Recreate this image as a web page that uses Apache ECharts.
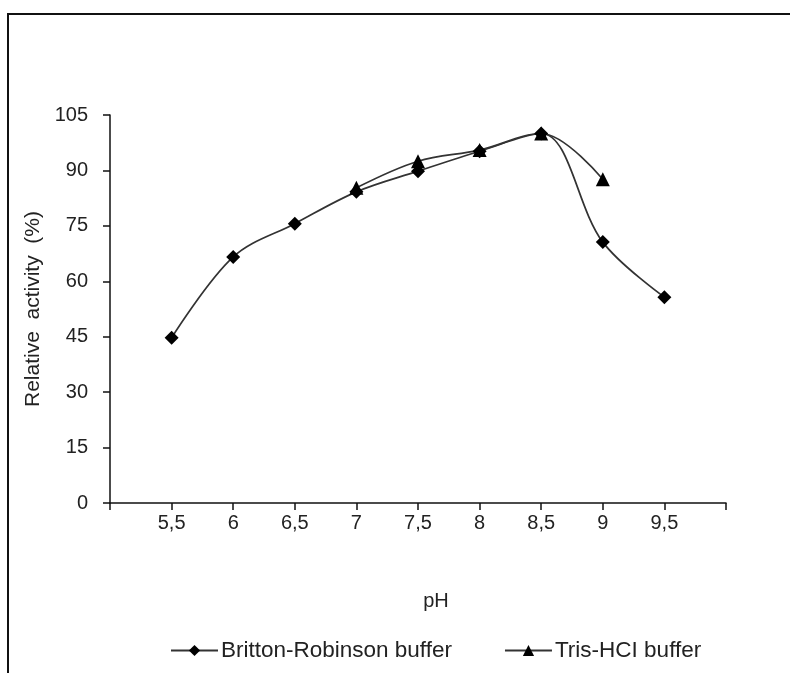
<!DOCTYPE html>
<html><head><meta charset="utf-8">
<script src="https://cdn.jsdelivr.net/npm/echarts@6/dist/echarts.min.js"></script>
<style>html,body{margin:0;padding:0;background:#fff}#c{width:790px;height:673px}</style>
</head><body><div id="c"></div>
<script>
const phBR = [5.5, 6, 6.5, 7, 7.5, 8, 8.5, 9, 9.5];
const brValues = [44.7, 66.6, 75.6, 84.2, 89.8, 95.2, 100, 70.6, 55.7];
const phTris = [7, 7.5, 8, 8.5, 9];
const trisValues = [85.3, 92.5, 95.5, 100, 87.6];
const yTicks = [0, 15, 30, 45, 60, 75, 90, 105];
const xName = 'pH';
const yName = 'Relative  activity  (%)';
const seriesNames = ['Britton-Robinson buffer', 'Tris-HCI buffer'];

const FONT = "'Liberation Sans', Arial, sans-serif";
const chart = echarts.init(document.getElementById('c'), null, {renderer: 'canvas'});
const pair = (xs, ys) => xs.map((x, i) => [x, ys[i]]);
chart.setOption({
  animation: false,
  backgroundColor: '#fff',
  graphic: [{
    type: 'polyline', silent: true,
    shape: {points: [[8, 680], [8, 14], [800, 14]]},
    style: {stroke: '#111', lineWidth: 2, fill: null}
  }],
  grid: {left: 110, right: 64, top: 115, bottom: 170, containLabel: false},
  xAxis: {
    type: 'value', min: 5, max: 10, interval: 0.5,
    name: xName, nameLocation: 'middle', nameGap: 88,
    nameTextStyle: {fontFamily: FONT, fontSize: 20, color: '#222', padding: [0, 0, 0, 36]},
    axisLine: {show: true, lineStyle: {color: '#111', width: 1.5}},
    axisTick: {show: true, length: 7, lineStyle: {color: '#111', width: 1.5}},
    axisLabel: {
      fontFamily: FONT, fontSize: 20, color: '#222', margin: 10,
      formatter: v => (v === 5 || v === 10) ? '' : String(v).replace('.', ',')
    },
    splitLine: {show: false}
  },
  yAxis: {
    type: 'value', min: yTicks[0], max: yTicks[yTicks.length - 1], interval: 15,
    name: yName, nameLocation: 'middle', nameGap: 60, nameRotate: 90,
    nameTextStyle: {fontFamily: FONT, fontSize: 21, color: '#222'},
    axisLine: {show: true, lineStyle: {color: '#111', width: 1.5}},
    axisTick: {show: true, length: 7, lineStyle: {color: '#111', width: 1.5}},
    axisLabel: {fontFamily: FONT, fontSize: 20, color: '#222', margin: 22},
    splitLine: {show: false}
  },
  legend: {
    top: 634, left: 165, itemGap: 52, itemWidth: 47, itemHeight: 14,
    textStyle: {fontFamily: FONT, fontSize: 22.5, color: '#222', padding: [0, 0, 0, -2]},
    data: seriesNames
  },
  series: [
    {
      name: seriesNames[0], type: 'line', data: pair(phBR, brValues),
      smooth: 0.35, symbol: 'diamond', symbolSize: 14,
      itemStyle: {color: '#000'}, lineStyle: {color: '#333', width: 1.7}
    },
    {
      name: seriesNames[1], type: 'line', data: pair(phTris, trisValues),
      smooth: 0.35, symbol: 'triangle', symbolSize: 14,
      itemStyle: {color: '#000'}, lineStyle: {color: '#333', width: 1.7}
    }
  ]
});
</script></body></html>
